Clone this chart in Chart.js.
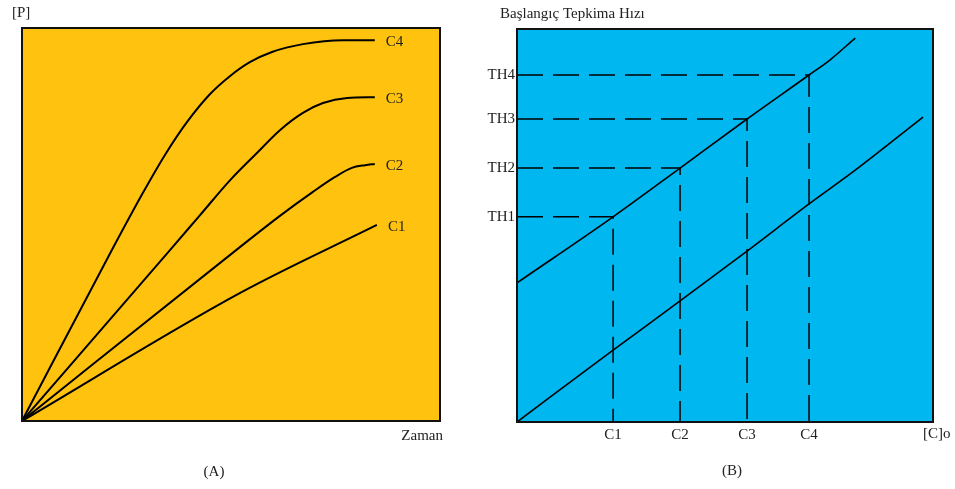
<!DOCTYPE html>
<html>
<head>
<meta charset="utf-8">
<script src="https://cdn.jsdelivr.net/npm/chart.js@4.4.0/dist/chart.umd.min.js"></script>
<style>
  body { margin: 0; background: #fff; }
  #wrap { position: relative; width: 955px; height: 489px; }
  canvas { position: absolute; top: 0; }
  #chartA { left: 0; }
  #chartB { left: 478px; }
</style>
</head>
<body>
<div id="wrap">
  <canvas id="chartA" width="478" height="489"></canvas>
  <canvas id="chartB" width="477" height="489"></canvas>
</div>
<script>
// Panel A - [P] vs Zaman, one curve per concentration
const curveLabels = ['C1', 'C2', 'C3', 'C4'];
const c1Curve = [{x: 0, y: 0}, {x: 52.2, y: 32.6}, {x: 84.9, y: 49.9}];
const c2Curve = [{x: 0, y: 0}, {x: 52.2, y: 44.3}, {x: 61.7, y: 52.2}, {x: 69.6, y: 58.3}, {x: 74.9, y: 62.1}, {x: 78.9, y: 64.4}, {x: 82.1, y: 65.1}, {x: 84.4, y: 65.4}];
const c3Curve = [{x: 0, y: 0}, {x: 35.4, y: 43.5}, {x: 42.6, y: 52.4}, {x: 49.8, y: 61.3}, {x: 56.2, y: 68.2}, {x: 61.7, y: 74.0}, {x: 67.2, y: 78.4}, {x: 72.0, y: 80.9}, {x: 77.8, y: 82.2}, {x: 84.4, y: 82.4}];
const c4Curve = [{x: 0, y: 0}, {x: 21.5, y: 43.5}, {x: 28.9, y: 58.0}, {x: 34.2, y: 67.7}, {x: 39.5, y: 76.1}, {x: 45.0, y: 83.2}, {x: 49.8, y: 87.8}, {x: 54.5, y: 91.3}, {x: 59.8, y: 93.9}, {x: 67.2, y: 95.9}, {x: 76.8, y: 96.9}, {x: 84.4, y: 96.9}];

// Panel B - initial rate vs [C]o
const concTicks = [23.1, 39.2, 55.3, 70.2];
const concLabels = ['C1', 'C2', 'C3', 'C4'];
const rateTicks = [52.2, 64.6, 77.1, 88.3];
const rateLabels = ['TH1', 'TH2', 'TH3', 'TH4'];
const upperLine = [{x: 0, y: 35.4}, {x: 23.1, y: 52.2}, {x: 39.2, y: 64.6}, {x: 55.3, y: 77.1}, {x: 70.2, y: 88.3}, {x: 75.2, y: 92.1}, {x: 81.3, y: 97.7}];
const lowerLine = [{x: 0, y: 0}, {x: 23.1, y: 18.3}, {x: 39.2, y: 30.8}, {x: 55.3, y: 43.5}, {x: 70.2, y: 55.5}, {x: 81.3, y: 64.1}, {x: 97.6, y: 77.6}];

const serif = '"Liberation Serif", "Times New Roman", serif';
const textColor = '#222';

// fills the plot area and draws the frame and free texts
function panelPlugin(fill, texts) {
    return {
        id: 'panel',
        beforeDatasetsDraw(chart) {
            const a = chart.chartArea;
            const ctx = chart.ctx;
            ctx.save();
            ctx.fillStyle = fill;
            ctx.fillRect(a.left, a.top, a.right - a.left, a.bottom - a.top);
            ctx.restore();
        },
        afterDraw(chart) {
            const a = chart.chartArea;
            const ctx = chart.ctx;
            ctx.save();
            ctx.strokeStyle = '#111';
            ctx.lineWidth = 2;
            ctx.strokeRect(a.left, a.top, a.right - a.left, a.bottom - a.top);
            ctx.fillStyle = textColor;
            ctx.font = '15px ' + serif;
            ctx.textBaseline = 'middle';
            texts.forEach(t => {
                ctx.textAlign = t.align || 'left';
                ctx.fillText(t.text, t.x, t.y);
            });
            ctx.restore();
        }
    };
}

// C1..C4 next to the end of each curve
const endLabels = {
    id: 'endLabels',
    afterDatasetsDraw(chart) {
        const ctx = chart.ctx;
        ctx.save();
        ctx.fillStyle = textColor;
        ctx.font = '15px ' + serif;
        ctx.textBaseline = 'middle';
        chart.data.datasets.forEach((ds, i) => {
            const pts = chart.getDatasetMeta(i).data;
            const last = pts[pts.length - 1];
            ctx.fillText(ds.label, last.x + 11, last.y + 2);
        });
        ctx.restore();
    }
};

function curve(label, data) {
    return {
        label: label,
        data: data,
        borderColor: '#000',
        borderWidth: 2,
        pointRadius: 0,
        cubicInterpolationMode: 'monotone',
        fill: false
    };
}

new Chart(document.getElementById('chartA'), {
    type: 'line',
    data: {
        datasets: [
            curve(curveLabels[0], c1Curve),
            curve(curveLabels[1], c2Curve),
            curve(curveLabels[2], c3Curve),
            curve(curveLabels[3], c4Curve)
        ]
    },
    options: {
        responsive: false,
        animation: false,
        layout: { padding: { left: 22, top: 28, right: 38, bottom: 68 } },
        plugins: { legend: { display: false }, tooltip: { enabled: false } },
        scales: {
            x: { type: 'linear', min: 0, max: 100, display: false },
            y: { type: 'linear', min: 0, max: 100, display: false }
        }
    },
    plugins: [
        panelPlugin('#FFC20E', [
            { text: '[P]', x: 12, y: 13 },
            { text: 'Zaman', x: 443, y: 436, align: 'right' },
            { text: '(A)', x: 214, y: 472, align: 'center' }
        ]),
        endLabels
    ]
});

// dashed guide from the y axis to the point and down to the x axis
const guides = concTicks.map((c, i) => ({
    data: [{x: 0, y: rateTicks[i]}, {x: c, y: rateTicks[i]}, {x: c, y: 0}],
    borderColor: '#000',
    borderWidth: 1.5,
    borderDash: [26, 10],
    pointRadius: 0,
    tension: 0,
    fill: false
}));

new Chart(document.getElementById('chartB'), {
    type: 'line',
    data: {
        datasets: [
            { data: upperLine, borderColor: '#000', borderWidth: 1.6, pointRadius: 0, cubicInterpolationMode: 'monotone', fill: false },
            { data: lowerLine, borderColor: '#000', borderWidth: 1.6, pointRadius: 0, cubicInterpolationMode: 'monotone', fill: false }
        ].concat(guides)
    },
    options: {
        responsive: false,
        animation: false,
        layout: { padding: { left: 0, top: 29, right: 22, bottom: 0 } },
        plugins: { legend: { display: false }, tooltip: { enabled: false } },
        scales: {
            x: {
                type: 'linear', min: 0, max: 100,
                afterBuildTicks: scale => { scale.ticks = concTicks.map(v => ({ value: v })); },
                afterFit: scale => { scale.height = 67; },
                grid: { display: false, drawTicks: false },
                border: { display: false },
                ticks: {
                    autoSkip: false, maxRotation: 0, padding: 4,
                    color: textColor, font: { family: serif, size: 15 },
                    callback: (v, i) => concLabels[i]
                }
            },
            y: {
                type: 'linear', min: 0, max: 100,
                afterBuildTicks: scale => { scale.ticks = rateTicks.map(v => ({ value: v })); },
                afterFit: scale => { scale.width = 39; },
                grid: { display: false, drawTicks: false },
                border: { display: false },
                ticks: {
                    autoSkip: false, padding: 2,
                    color: textColor, font: { family: serif, size: 15 },
                    callback: (v, i) => rateLabels[i]
                }
            }
        }
    },
    plugins: [
        panelPlugin('#00B7EF', [
            { text: 'Başlangıç Tepkima Hızı', x: 22, y: 14 },
            { text: '[C]o', x: 445, y: 434 },
            { text: '(B)', x: 254, y: 471, align: 'center' }
        ])
    ]
});
</script>
</body>
</html>
